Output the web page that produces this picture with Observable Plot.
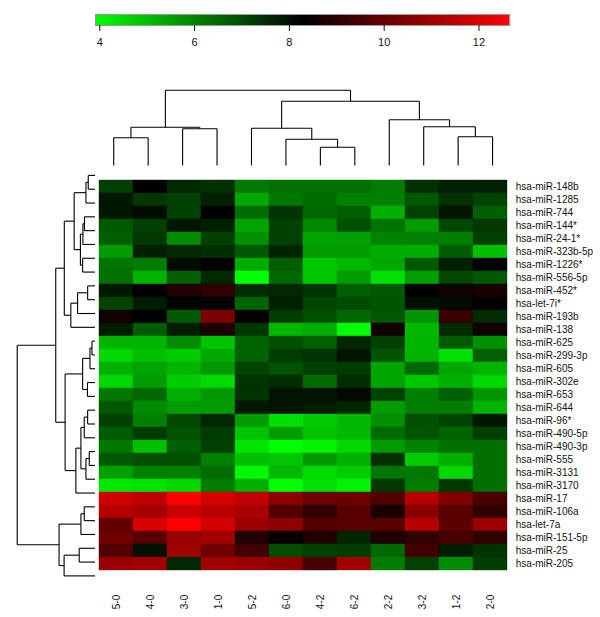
<!DOCTYPE html>
<html><head><meta charset="utf-8">
<script src="https://cdn.jsdelivr.net/npm/d3@7"></script>
<script src="https://cdn.jsdelivr.net/npm/@observablehq/plot@0.6"></script>
<style>
body{margin:0;background:#fff}
#chart{position:relative;width:600px;height:617px}
#chart svg{position:absolute;left:0;top:0}
</style>
</head><body><div id="chart"></div>
<script>
// ---- data ----
const samples = ["5-0","4-0","3-0","1-0","5-2","6-0","4-2","6-2","2-2","3-2","1-2","2-0"];
const mirnas = ["hsa-miR-148b","hsa-miR-1285","hsa-miR-744","hsa-miR-144*","hsa-miR-24-1*","hsa-miR-323b-5p",
  "hsa-miR-1226*","hsa-miR-556-5p","hsa-miR-452*","hsa-let-7i*","hsa-miR-193b","hsa-miR-138",
  "hsa-miR-625","hsa-miR-299-3p","hsa-miR-605","hsa-miR-302e","hsa-miR-653","hsa-miR-644",
  "hsa-miR-96*","hsa-miR-490-5p","hsa-miR-490-3p","hsa-miR-555","hsa-miR-3131","hsa-miR-3170",
  "hsa-miR-17","hsa-miR-106a","hsa-let-7a","hsa-miR-151-5p","hsa-miR-25","hsa-miR-205"];
const expression = [
  [7.18, 8.28, 7.59, 7.42, 6.19, 6.36, 6.36, 6.36, 6.15, 7.46, 7.73, 7.73],
  [7.87, 7.32, 7.18, 7.73, 5.40, 6.22, 6.43, 6.09, 6.09, 6.77, 7.46, 7.11],
  [7.87, 8.07, 7.18, 8.28, 6.43, 7.39, 6.50, 6.63, 5.26, 7.18, 7.94, 6.63],
  [6.77, 7.18, 7.87, 7.73, 5.47, 7.18, 5.95, 6.91, 6.29, 5.61, 7.05, 7.32],
  [6.63, 7.32, 5.88, 7.18, 5.81, 7.18, 5.47, 5.54, 6.02, 6.09, 6.09, 7.18],
  [5.61, 7.73, 7.59, 7.46, 6.77, 7.66, 5.61, 5.61, 5.33, 5.33, 6.70, 4.99],
  [6.29, 6.15, 8.07, 8.28, 5.33, 6.63, 4.85, 5.13, 5.40, 6.77, 7.73, 8.28],
  [6.36, 5.19, 6.63, 7.59, 3.91, 6.50, 4.85, 5.61, 4.44, 5.54, 7.05, 6.77],
  [7.87, 8.28, 8.83, 9.10, 7.53, 7.59, 7.39, 6.63, 6.77, 8.28, 8.55, 8.69],
  [7.11, 7.80, 8.21, 8.21, 6.57, 7.73, 7.05, 6.98, 6.84, 8.01, 8.07, 8.35],
  [8.55, 8.28, 6.77, 10.41, 8.28, 7.25, 6.91, 6.50, 6.77, 5.74, 9.24, 7.53],
  [7.80, 6.70, 7.80, 8.83, 7.32, 5.13, 5.33, 3.91, 8.55, 5.13, 7.53, 8.55],
  [5.19, 5.19, 5.88, 4.92, 6.57, 6.91, 6.63, 7.59, 7.18, 5.19, 6.70, 5.81],
  [4.58, 4.99, 4.78, 5.40, 6.57, 7.25, 7.39, 7.94, 6.84, 5.19, 4.44, 6.63],
  [5.26, 5.47, 5.19, 5.67, 7.11, 6.84, 7.18, 7.25, 5.47, 6.50, 5.40, 5.19],
  [4.58, 5.61, 4.78, 4.51, 7.39, 7.53, 6.43, 7.53, 5.47, 4.85, 5.26, 4.58],
  [6.22, 6.50, 5.26, 5.67, 7.39, 7.94, 7.94, 8.14, 7.18, 6.09, 6.63, 5.74],
  [6.77, 5.88, 5.61, 5.61, 7.87, 7.94, 7.80, 7.59, 5.61, 6.09, 6.15, 5.19],
  [7.18, 6.09, 7.05, 7.59, 5.61, 4.44, 4.78, 5.13, 5.81, 6.91, 7.11, 7.87],
  [6.70, 7.25, 6.84, 7.25, 4.92, 5.61, 4.92, 5.13, 6.43, 6.84, 6.57, 7.18],
  [6.22, 4.99, 6.63, 7.18, 4.37, 3.91, 4.10, 4.58, 5.61, 6.02, 6.36, 6.36],
  [6.77, 6.91, 6.91, 6.09, 4.99, 4.92, 5.67, 5.26, 7.46, 4.78, 5.26, 6.36],
  [5.54, 6.09, 6.09, 6.43, 4.03, 5.13, 4.51, 4.78, 6.22, 6.22, 4.58, 6.36],
  [4.30, 4.37, 4.58, 6.15, 5.26, 3.91, 4.44, 4.10, 7.32, 6.15, 7.32, 6.36],
  [11.85, 11.57, 12.65, 11.91, 11.57, 10.68, 10.13, 10.13, 9.65, 11.37, 10.47, 9.51],
  [11.37, 11.09, 11.71, 11.43, 11.16, 9.65, 9.10, 9.79, 8.69, 10.61, 9.79, 9.10],
  [9.93, 11.98, 12.65, 11.91, 10.96, 10.75, 9.72, 9.79, 9.79, 11.40, 9.86, 10.96],
  [10.20, 9.79, 10.89, 11.02, 8.83, 8.42, 8.83, 7.66, 8.83, 9.10, 9.51, 9.10],
  [9.65, 8.01, 11.02, 10.20, 9.38, 6.98, 7.18, 7.25, 6.50, 9.38, 7.80, 7.39],
  [10.89, 11.02, 7.59, 11.02, 10.89, 10.75, 9.51, 11.02, 6.15, 7.18, 5.88, 7.25]
];
// hclust-style merges (negative = leaf, 1-based in display order; positive = earlier merge)
const colMerge = [[-7,-8],[-6,1],[-1,-2],[-11,-12],[-3,-4],[-5,2],[3,5],[-10,4],[-9,8],[6,9],[7,10]];
const colHeight = [18.3, 26.3, 27.7, 28.7, 36.7, 37.3, 38.3, 38.7, 45.7, 64.3, 75.3];
const rowMerge = [[-1,-2],[-3,1],[-4,-5],[-6,3],[-7,-8],[4,5],[2,6],[-9,-10],[-11,8],[9,-12],[7,10],
  [-13,-14],[12,-15],[-16,-17],[13,14],[-18,-19],[16,-20],[-21,-22],[18,-23],[17,19],[20,-24],[15,21],[11,22],
  [-25,-26],[24,-27],[-28,-29],[26,-30],[25,27],[23,28]];
const rowHeight = [6.7, 9, 10.5, 12, 12.3, 14.5, 20.7, 7.3, 17.3, 24, 30.5,
  3, 5, 7.5, 12.3, 7.3, 10.7, 5.7, 9, 14, 19, 29.7, 39,
  10.7, 14, 15.7, 30.7, 35.7, 77.3];
const colorDomain = [3.91, 8.28, 12.65];
const colorRange = ["#00ff00", "#000000", "#ff0000"];
const legendTicks = [4, 6, 8, 10, 12];

// ---- helpers ----
function dendroSegments(merge, heights) {
  const pos = [];
  const segs = [];
  const np = k => k < 0 ? (-k - 0.5) : pos[k - 1];
  const nh = k => k < 0 ? 0 : heights[k - 1];
  merge.forEach(([a, b], i) => {
    const h = heights[i], pa = np(a), pb = np(b);
    segs.push({p1: pa, h1: nh(a), p2: pa, h2: h});
    segs.push({p1: pa, h1: h, p2: pb, h2: h});
    segs.push({p1: pb, h1: nh(b), p2: pb, h2: h});
    pos.push((pa + pb) / 2);
  });
  return segs;
}
const cells = [];
mirnas.forEach((r, i) => samples.forEach((c, j) => cells.push({row: r, col: c, value: expression[i][j]})));

const W = 600, H = 617;
const font = "'Liberation Sans', Arial, sans-serif";
const baseStyle = {background: "transparent", fontFamily: font, fontSize: "10px", color: "#111", overflow: "visible"};
const color = {type: "linear", domain: colorDomain, range: colorRange, interpolate: "rgb"};
const hmLeft = 96, hmRight = W - 509.3, hmTop = 168, hmBottom = H - 582.3;

const chart = document.getElementById("chart");

// heatmap
chart.append(Plot.plot({
  width: W, height: H, marginLeft: hmLeft, marginRight: hmRight, marginTop: hmTop, marginBottom: hmBottom,
  style: baseStyle,
  x: {domain: samples, padding: 0, label: null},
  y: {domain: mirnas, padding: 0, label: null},
  color,
  marks: [
    Plot.cell(cells, {x: "col", y: "row", fill: "value", stroke: "value", strokeWidth: 0.4, inset: 0}),
    Plot.axisY({anchor: "right", tickSize: 0, tickPadding: 6, label: null}),
    Plot.axisX({anchor: "bottom", tickSize: 0, tickPadding: 12, tickRotate: -90, label: null})
  ]
}));

// column dendrogram
chart.append(Plot.plot({
  width: W, height: H, marginLeft: hmLeft, marginRight: hmRight, marginTop: 89.7, marginBottom: H - 165,
  style: baseStyle,
  x: {domain: [0, samples.length], axis: null},
  y: {domain: [0, d3.max(colHeight)], axis: null},
  marks: [
    Plot.link(dendroSegments(colMerge, colHeight), {x1: "p1", y1: "h1", x2: "p2", y2: "h2", stroke: "#000", strokeWidth: 1.1})
  ]
}));

// row dendrogram
chart.append(Plot.plot({
  width: W, height: H, marginLeft: 16.7, marginRight: W - 94.5, marginTop: hmTop, marginBottom: hmBottom,
  style: baseStyle,
  x: {domain: [0, d3.max(rowHeight)], reverse: true, axis: null},
  y: {domain: [0, mirnas.length], reverse: true, axis: null},
  marks: [
    Plot.link(dendroSegments(rowMerge, rowHeight), {x1: "h1", y1: "p1", x2: "h2", y2: "p2", stroke: "#000", strokeWidth: 1.1})
  ]
}));

// colour key
const step = 0.04;
const ramp = d3.range(colorDomain[0], colorDomain[2], step);
chart.append(Plot.plot({
  width: W, height: H, marginLeft: 95, marginRight: W - 509.3, marginTop: 14, marginBottom: H - 25,
  style: {...baseStyle, fontSize: "11px"},
  x: {domain: [colorDomain[0], colorDomain[2]], label: null},
  y: {domain: [0, 1], axis: null},
  color,
  marks: [
    Plot.rect(ramp, {x1: d => d, x2: d => Math.min(d + step * 1.5, colorDomain[2]), y1: 0, y2: 1, fill: d => d + step / 2}),
    Plot.frame({stroke: "#999", strokeWidth: 1}),
    Plot.axisX({anchor: "bottom", ticks: legendTicks, tickSize: 6, tickPadding: 7, label: null, tickFormat: d => String(d)})
  ]
}));
</script></body></html>
